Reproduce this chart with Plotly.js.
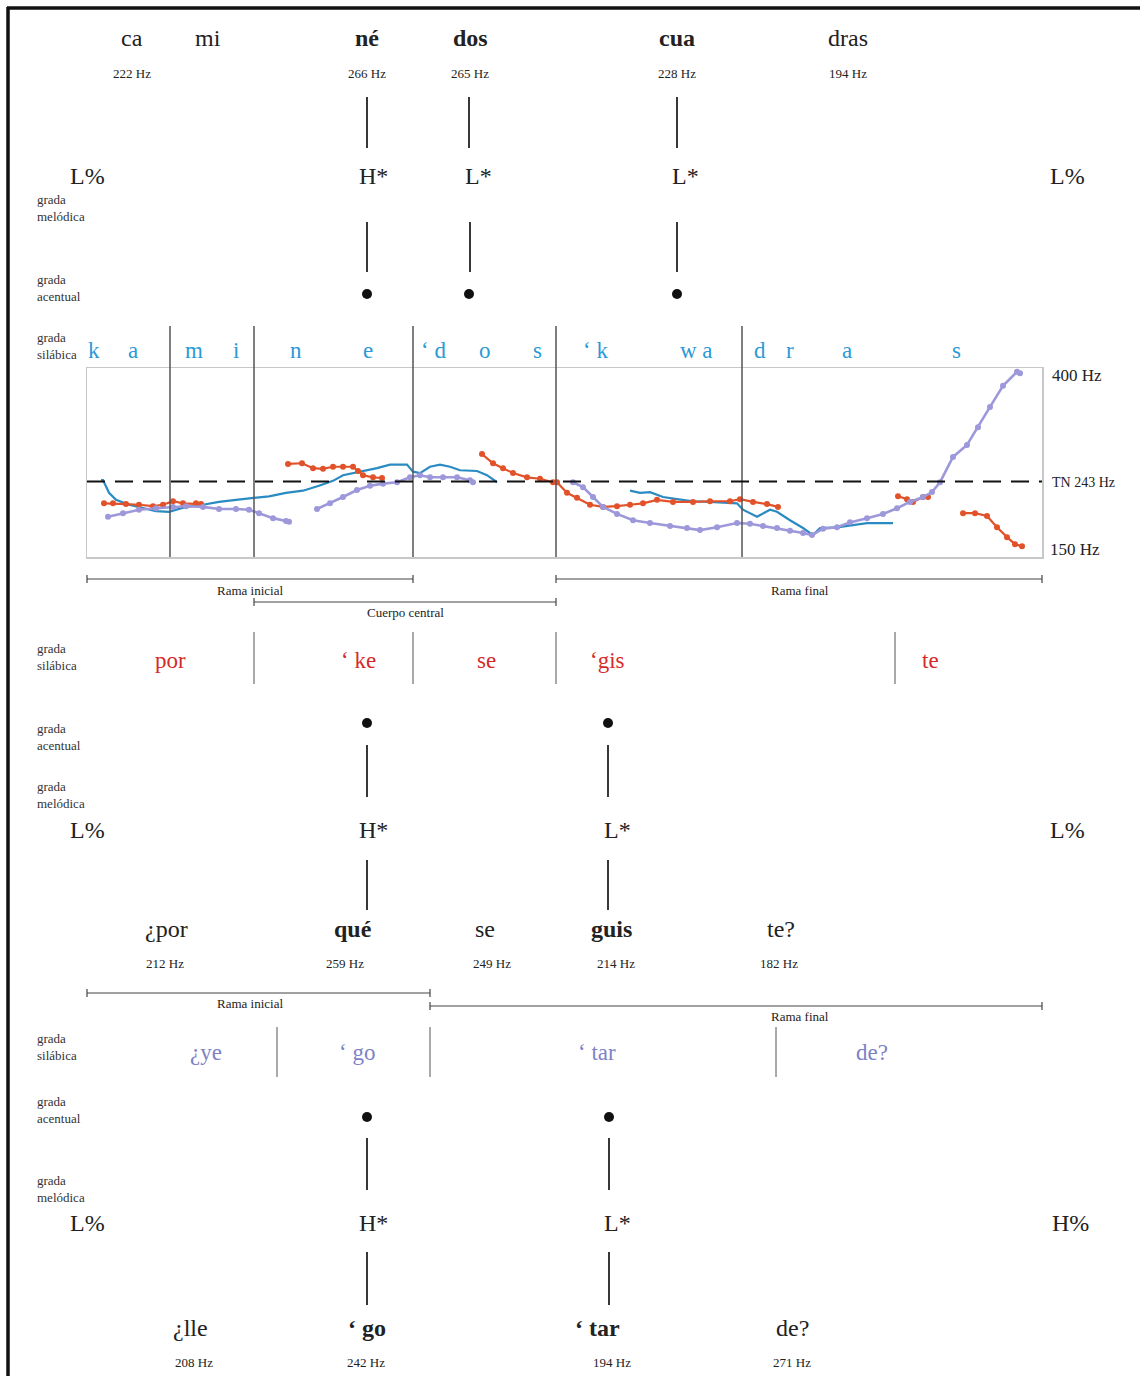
<!DOCTYPE html>
<html><head><meta charset="utf-8">
<script src="https://cdn.plot.ly/plotly-3.0.1.min.js"></script>
<style>html,body{margin:0;padding:0;background:#fff}</style>
</head><body><div id="chart" style="width:1140px;height:1376px"></div>
<script>
// ---------------- DATA ----------------
// F0 contours (time in arbitrary units, F0 in Hz); null separates voiced stretches
const blueT  = [14,16,22,29,42,56,69,82,89,99,116,132,149,166,182,199,216,232,246,256,273,290,303,320,326,333,343,353,363,373,390,400,410,
                null,543,553,563,576,590,606,623,650,656,670,683,690,703,716,726,733,750,763,780,806];
const blueHz = [245,245,227,217,210,205,201,200,203,207,210,214,217,220,222,227,230,237,244,252,257,262,267,267,257,255,264,267,264,259,258,252,242,
                null,230,227,228,221,218,215,214,212,203,193,203,200,188,177,167,177,178,181,184,184];

const orangeT  = [17,26,39,52,66,76,86,96,109,114,
                  null,201,215,226,236,246,256,266,271,276,286,295,
                  null,395,406,416,426,440,453,466,470,480,490,503,516,530,543,556,570,586,606,623,643,653,666,680,691,
                  null,811,820,826,836,841,
                  null,876,888,900,910,920,928,935];
const orangeHz = [212,212,211,210,208,210,215,212,212,211,
                  null,268,269,262,261,264,264,264,258,252,249,248,
                  null,282,269,262,255,249,247,242,242,227,220,210,207,208,210,212,217,214,214,215,215,218,214,211,207,
                  null,222,218,214,221,221,
                  null,198,198,194,178,164,154,151];

const purpleT  = [21,36,52,69,86,99,116,132,149,162,172,186,199,202,
                  null,230,243,256,270,283,296,310,323,333,343,356,370,383,386,
                  null,486,496,506,516,530,546,563,583,600,613,630,650,663,676,690,703,716,725,736,750,763,780,796,810,823,836,845,853,866,880,891,903,916,930,933];
const purpleHz = [193,198,203,205,207,208,207,204,204,203,198,191,187,186,
                  null,204,212,221,231,237,240,242,249,252,249,249,249,245,242,
                  null,242,235,221,207,197,188,184,180,177,174,178,184,183,180,177,173,170,167,176,178,185,191,197,205,214,221,228,242,278,295,320,349,379,399,397];

const refHz = 243;                       // TN reference line
const syllableBounds = [83,167,326,469,655];   // syllable boundaries (time)
const axisLabels = ['400 Hz','TN 243 Hz','150 Hz'];

const topWords = ['ca','mi','né','dos','cua','dras'];
const topHz    = [222,null,266,265,228,194];
const topTones = ['L%','H*','L*','L*','L%'];
const segLetters = ['k','a','m','i','n','e','‘ d','o','s','‘ k','w a','d','r','a','s'];

const phraseLabels = ['Rama inicial','Cuerpo central','Rama final'];

const midSyll  = ['por','‘ ke','se','‘gis','te'];
const midTones = ['L%','H*','L*','L%'];
const midWords = ['¿por','qué','se','guis','te?'];
const midHz    = [212,259,249,214,182];

const botSyll  = ['¿ye','‘ go','‘ tar','de?'];
const botTones = ['L%','H*','L*','H%'];
const botWords = ['¿lle','‘ go','‘ tar','de?'];
const botHz    = [208,242,194,271];

const tierNames = ['grada<br>melódica','grada<br>acentual','grada<br>silábica'];

// ---------------- LAYOUT HELPERS ----------------
const W = 1140, H = 1376;
const SERIF = 'Liberation Serif, Times New Roman, serif';
const px = x => x / W, py = y => 1 - y / H;
const ann = [], shp = [];
function txt(x, y, text, size, opt) {
  opt = opt || {};
  ann.push({xref:'paper', yref:'paper', x:px(x), y:py(y), text:text, showarrow:false,
    xanchor: opt.xa || 'center', yanchor:'middle', align: opt.xa || 'center',
    font:{family:SERIF, size:size, color: opt.color || '#222'}});
}
function bold(t){ return '<b>' + t + '</b>'; }
function vline(x, y0, y1, w, c) {
  shp.push({type:'line', xref:'paper', yref:'paper', x0:px(x), x1:px(x), y0:py(y0), y1:py(y1),
    line:{color:c || '#222', width:w || 1.8}});
}
function hline(x0, x1, y, w, c) {
  shp.push({type:'line', xref:'paper', yref:'paper', x0:px(x0), x1:px(x1), y0:py(y), y1:py(y),
    line:{color:c || '#444', width:w || 1.2}});
}
function bar(x0, x1, y) { hline(x0, x1, y); vline(x0, y-4, y+4, 1.2, '#444'); vline(x1, y-4, y+4, 1.2, '#444'); }
function dot(x, y) {
  shp.push({type:'circle', xref:'paper', yref:'paper', x0:px(x-5), x1:px(x+5), y0:py(y+5), y1:py(y-5),
    fillcolor:'#111', line:{width:0}});
}
function tier(i, x, y) { txt(x, y, tierNames[i], 13, {xa:'left', color:'#333'}); }
const hzLabel = v => v + ' Hz';

// frame of page
vline(8, 7, 1376, 3.5, '#111');
hline(7, 1140, 8, 3.5, '#111');

// ---------- top: "caminé dos cuadras" ----------
const topX = [132,208,367,470,677,848];
topWords.forEach((w,i) => txt(topX[i], 38, [2,3,4].includes(i) ? bold(w) : w, 24));
topHz.forEach((v,i) => { if (v !== null) txt(topX[i], 73, hzLabel(v), 13); });
[367,469,677].forEach(x => vline(x, 97, 148));
const topToneX = [87,373,478,685,1067];
topTones.forEach((t,i) => txt(topToneX[i], 176, t, 24));
tier(0, 35, 208);
[367,470,677].forEach(x => vline(x, 222, 272));
tier(1, 35, 288);
[367,469,677].forEach(x => dot(x, 294));
tier(2, 35, 346);
const segX = [94,133,194,236,296,368,433,485,537,595,696,760,790,847,957];
segLetters.forEach((s,i) => txt(segX[i], 350, s, 23, {color:'#2b9ad6'}));

// plot annotations at right
txt(1050, 375, axisLabels[0], 17, {xa:'left'});
txt(1050, 482, axisLabels[1], 14, {xa:'left'});
txt(1048, 550, axisLabels[2], 17, {xa:'left'});

// phrase brackets (first utterance)
bar(87, 413, 579); txt(250, 590, phraseLabels[0], 13);
bar(254, 556, 602); txt(405, 612, phraseLabels[1], 13);
bar(556, 1042, 579); txt(800, 590, phraseLabels[2], 13);

// ---------- middle: "¿por qué se guiste?" ----------
tier(2, 35, 657);
const midSX = [170,358,486,607,930];
midSyll.forEach((s,i) => txt(midSX[i], 660, s, 23, {color:'#d42a2a'}));
[254,413,556,895].forEach(x => vline(x, 632, 684, 1, '#555'));
tier(1, 35, 737);
[367,608].forEach(x => dot(x, 723));
[367,608].forEach(x => vline(x, 745, 797));
tier(0, 35, 795);
const midToneX = [87,373,617,1067];
midTones.forEach((t,i) => txt(midToneX[i], 830, t, 24));
[367,608].forEach(x => vline(x, 860, 910));
const midWX = [166,353,485,611,781];
midWords.forEach((w,i) => txt(midWX[i], 929, [1,3].includes(i) ? bold(w) : w, 24));
const midHX = [165,345,492,616,779];
midHz.forEach((v,i) => txt(midHX[i], 963, hzLabel(v), 13));
bar(87, 430, 993); txt(250, 1003, phraseLabels[0], 13);
bar(430, 1042, 1006); txt(800, 1016, phraseLabels[2], 13);

// ---------- bottom: "¿llegó tarde?" ----------
tier(2, 35, 1047);
const botSX = [206,357,597,872];
botSyll.forEach((s,i) => txt(botSX[i], 1052, s, 23, {color:'#7d82c8'}));
[277,430,776].forEach(x => vline(x, 1027, 1077, 1, '#555'));
tier(1, 35, 1110);
[367,609].forEach(x => dot(x, 1117));
[367,609].forEach(x => vline(x, 1138, 1190));
tier(0, 35, 1189);
const botToneX = [87,373,617,1070];
botTones.forEach((t,i) => txt(botToneX[i], 1223, t, 24));
[367,609].forEach(x => vline(x, 1252, 1305));
const botWX = [190,367,597,792];
botWords.forEach((w,i) => txt(botWX[i], 1328, [1,2].includes(i) ? bold(w) : w, 24));
const botHX = [194,366,612,792];
botHz.forEach((v,i) => txt(botHX[i], 1362, hzLabel(v), 13));

// ---------- F0 plot shapes ----------
syllableBounds.forEach(t => shp.push({type:'line', xref:'x', yref:'paper', x0:t, x1:t,
  y0:py(557), y1:py(326), line:{color:'#555', width:1.5}}));
shp.push({type:'line', xref:'paper', yref:'y', x0:px(87), x1:px(1042), y0:refHz, y1:refHz,
  line:{color:'#111', width:2, dash:'18px,10px'}});

const traces = [
  {x:blueT, y:blueHz, mode:'lines', line:{color:'#2a8bc2', width:2.2}, connectgaps:false},
  {x:orangeT, y:orangeHz, mode:'lines+markers', line:{color:'#e2522a', width:2.2},
   marker:{color:'#e2522a', size:6, symbol:'circle'}, connectgaps:false},
  {x:purpleT, y:purpleHz, mode:'lines+markers', line:{color:'#9d98da', width:2.6},
   marker:{color:'#9d98da', size:6, symbol:'circle'}, connectgaps:false}
];

const layout = {
  width: W, height: H, margin:{l:0, r:0, t:0, b:0},
  paper_bgcolor:'#fff', plot_bgcolor:'#fff', showlegend:false,
  xaxis:{domain:[px(87), px(1042)], range:[0,955], showgrid:false, zeroline:false,
         showticklabels:false, ticks:'', showline:true, mirror:true, linecolor:'#c8c8c8', linewidth:1.5, fixedrange:true},
  yaxis:{domain:[py(557), py(368)], range:[135.8,404.3], showgrid:false, zeroline:false,
         showticklabels:false, ticks:'', showline:true, mirror:true, linecolor:'#c8c8c8', linewidth:1.5, fixedrange:true},
  annotations: ann, shapes: shp
};
Plotly.newPlot('chart', traces, layout, {displayModeBar:false, staticPlot:true});
</script></body></html>
